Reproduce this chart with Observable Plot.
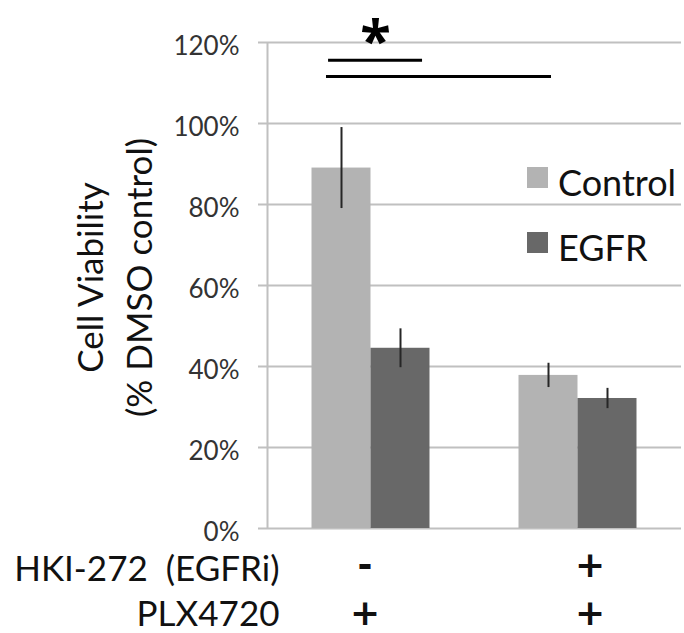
<!DOCTYPE html>
<html>
<head>
<meta charset="utf-8">
<script src="https://cdn.jsdelivr.net/npm/d3@7"></script>
<script src="https://cdn.jsdelivr.net/npm/@observablehq/plot@0.6"></script>
<style>
  html, body { margin: 0; padding: 0; background: #fff; }
  #wrap { position: relative; width: 684px; height: 633px; overflow: hidden; }
  #legend { position: absolute; left: 0; top: 0; font-family: Lato, sans-serif; font-size: 36px; color: #111; }
  .sw { position: absolute; width: 21px; height: 21px; }
  .lt { position: absolute; line-height: 1; white-space: nowrap; }
</style>
</head>
<body>
<div id="wrap"><div id="legend"></div></div>
<script>
// ---- data ----
const groups = ["PLX4720", "PLX4720 + HKI-272"];
const series = ["Control", "EGFR"];
const controlValues = [0.89, 0.378];
const egfrValues = [0.445, 0.321];
const controlErrors = [0.10, 0.03];
const egfrErrors = [0.048, 0.025];
const yTicks = [0, 0.2, 0.4, 0.6, 0.8, 1.0, 1.2];
const hkiRow = ["-", "+"];
const plxRow = ["+", "+"];
const rowLabels = ["HKI-272 \u00a0(EGFRi)", "PLX4720"];
const yTitle = ["Cell Viability", "(% DMSO control)"];
// significance annotation (group-index units, fraction of 100%)
const sigLines = [
  {x1: 0.295, x2: 0.749, y: 1.156},
  {x1: 0.285, x2: 1.372, y: 1.116}
];
const sigMarks = [{x: 0.522, y: 1.156, label: "*"}];
const colors = ["#b3b3b3", "#686868"];

// ---- layout/style constants ----
const barHalf = 0.285;           // bar width in group units
const symbolDx = [-6, 12];

const values = [controlValues, egfrValues];
const errors = [controlErrors, egfrErrors];
const table = [];
groups.forEach((g, i) => {
  series.forEach((s, j) => {
    const c = i + 0.5;
    table.push({
      group: g, series: s,
      value: values[j][i], error: errors[j][i],
      x1: j === 0 ? c - barHalf : c,
      x2: j === 0 ? c : c + barHalf,
      xc: j === 0 ? c - barHalf / 2 : c + barHalf / 2
    });
  });
});
const symbols = groups.map((g, i) => ({xc: i + 0.5, text: hkiRow[i] + "\n" + plxRow[i]}));

const grid = "#c0c0c0";
const chart = Plot.plot({
  width: 684,
  height: 633,
  marginLeft: 267,
  marginRight: 3,
  marginTop: 42,
  marginBottom: 105,
  x: {type: "linear", domain: [0, 2], axis: null},
  y: {domain: [0, 1.2], axis: null},
  color: {domain: series, range: colors},
  style: {fontFamily: "Lato, sans-serif", background: "white", overflow: "visible"},
  marks: [
    Plot.ruleY(yTicks, {stroke: grid, strokeWidth: 2, insetLeft: -9}),
    Plot.ruleX([0], {stroke: grid, strokeWidth: 2}),
    Plot.axisY({ticks: yTicks, tickSize: 0, tickPadding: 28, dy: 4, fontSize: 26, fill: "#333",
      tickFormat: d => Math.round(d * 100) + "%", label: null}),
    Plot.rectY(table, {x1: "x1", x2: "x2", y1: 0, y2: "value", fill: "series"}),
    Plot.ruleX(table, {x: "xc", y1: d => d.value - d.error, y2: d => d.value + d.error, stroke: "#262626", strokeWidth: 2}),
    Plot.ruleY(sigLines, {y: "y", x1: "x1", x2: "x2", stroke: "#000", strokeWidth: 3}),
    Plot.text(sigMarks, {x: "x", y: "y", text: "label", fontSize: 56, fontWeight: "bold", lineAnchor: "bottom",
      fontFamily: "'Open Sans', sans-serif", fill: "#000"}),
    Plot.text([yTitle.join("\n")], {frameAnchor: "left", rotate: -90, textAnchor: "middle", lineAnchor: "bottom",
      lineHeight: 1.4, fontSize: 35, dx: -116, dy: -8, fill: "#111"}),
    Plot.text([rowLabels.join("\n")], {frameAnchor: "bottom-left", textAnchor: "end", lineAnchor: "bottom",
      lineHeight: 1.286, fontSize: 35, dx: 12, dy: 97, fill: "#111"}),
    ...symbols.map((s, i) => Plot.text([s], {x: "xc", text: "text", frameAnchor: "bottom", lineAnchor: "bottom",
      lineHeight: 1.306, fontSize: 36, fontWeight: "bold", fontFamily: "'DejaVu Sans', sans-serif",
      dx: symbolDx[i], dy: 96, fill: "#111"}))
  ]
});
document.getElementById("wrap").prepend(chart);

// legend
const legend = document.getElementById("legend");
const legendTops = [167, 232];
series.forEach((s, j) => {
  const sw = document.createElement("div");
  sw.className = "sw";
  sw.style.left = "527px";
  sw.style.top = legendTops[j] + "px";
  sw.style.background = colors[j];
  legend.appendChild(sw);
  const t = document.createElement("div");
  t.className = "lt";
  t.style.left = "558px";
  t.style.top = (legendTops[j] - 3) + "px";
  t.textContent = s;
  legend.appendChild(t);
});
</script>
</body>
</html>
